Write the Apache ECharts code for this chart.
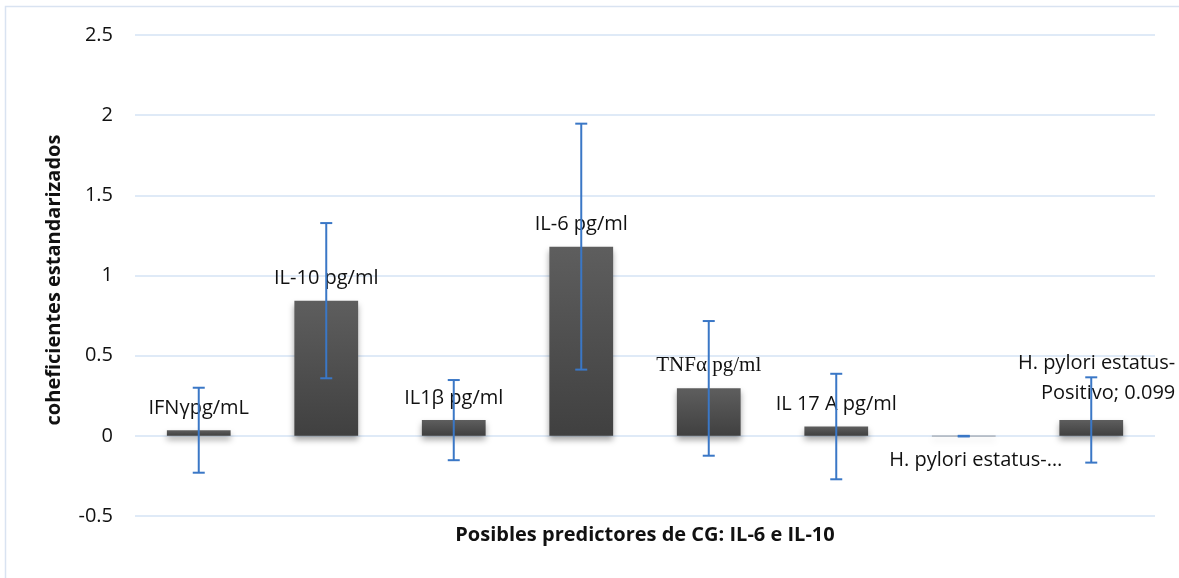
<!DOCTYPE html>
<html>
<head>
<meta charset="utf-8">
<script src="https://cdn.jsdelivr.net/npm/echarts@6/dist/echarts.min.js"></script>
<style>
  html, body { margin: 0; padding: 0; background: #fff; }
  #chart { width: 1179px; height: 578px; }
</style>
</head>
<body>
<div id="chart"></div>
<script>
// Predictor names (also used as the bar labels)
const categories = [
  'IFNγpg/mL',
  'IL-10 pg/ml',
  'IL1β pg/ml',
  'IL-6 pg/ml',
  'TNFα pg/ml',
  'IL 17 A pg/ml',
  'H. pylori estatus-Negativo',
  'H. pylori estatus-Positivo'
];
// Standardized coefficients
const coefficients = [0.035, 0.843, 0.098, 1.18, 0.296, 0.058, -0.002, 0.099];
// Symmetric error (± half-width of each interval)
const errors = [0.265, 0.484, 0.25, 0.767, 0.42, 0.329, 0.002, 0.266];
// Value-axis ticks
const yTicks = [-0.5, 0, 0.5, 1, 1.5, 2, 2.5];
const xTitle = 'Posibles predictores de CG: IL-6 e IL-10';
const yTitle = 'coheficientes estandarizados';

const labelFont = { fontFamily: 'Open Sans', fontSize: 20, color: '#111' };

const barData = coefficients.map((v, i) => {
  const item = { value: v };
  if (i === 4) {
    item.label = { fontFamily: 'Liberation Serif', fontSize: 21 };
  }
  if (i === 6) {
    item.label = {
      position: 'bottom', distance: 14, offset: [12, 0],
      formatter: 'H. pylori estatus-…'
    };
  }
  if (i === 7) {
    item.label = {
      align: 'right', offset: [84, 0], distance: 12, lineHeight: 30,
      formatter: 'H. pylori estatus-\nPositivo; ' + v.toFixed(3)
    };
  }
  return item;
});

const errData = coefficients.map((v, i) => [i, v - errors[i], v + errors[i]]);

const chart = echarts.init(document.getElementById('chart'), null, { renderer: 'canvas' });

chart.setOption({
  animation: false,
  backgroundColor: '#ffffff',
  graphic: [
    {
      type: 'rect',
      shape: { x: 5.5, y: 6.5, width: 1200, height: 600 },
      style: { fill: 'none', stroke: '#d9e3f1', lineWidth: 1.5 },
      silent: true,
      z: -10
    },
    {
      // vertical axis title
      type: 'group',
      x: 54,
      y: 280,
      children: [{
        type: 'text',
        rotation: Math.PI / 2,
        style: {
          text: yTitle,
          x: 0, y: 0,
          fontFamily: 'Open Sans', fontWeight: 'bold', fontSize: 20, fill: '#111',
          align: 'center', verticalAlign: 'middle'
        }
      }],
      silent: true
    }
  ],
  grid: { left: 135, right: 24, top: 35, bottom: 62, containLabel: false },
  xAxis: {
    type: 'category',
    data: categories,
    axisLine: { show: false },
    axisTick: { show: false },
    axisLabel: { show: false },
    name: xTitle,
    nameLocation: 'middle',
    nameGap: 9,
    nameTextStyle: { fontFamily: 'Open Sans', fontWeight: 'bold', fontSize: 20, color: '#111' }
  },
  yAxis: {
    type: 'value',
    min: yTicks[0],
    max: yTicks[yTicks.length - 1],
    interval: 0.5,
    axisLine: { show: false },
    axisTick: { show: false },
    axisLabel: {
      fontFamily: 'Open Sans', fontSize: 20, color: '#111', margin: 22,
      formatter: v => String(v)
    },
    splitLine: { lineStyle: { color: '#d5e3f4', width: 1.5 } }
  },
  series: [
    {
      type: 'bar',
      data: barData,
      barCategoryGap: '50%',
      itemStyle: {
        color: new echarts.graphic.LinearGradient(0, 0, 0, 1, [
          { offset: 0, color: '#5e5e5e' },
          { offset: 1, color: '#404040' }
        ]),
        shadowColor: 'rgba(0,0,0,0.35)',
        shadowBlur: 6,
        shadowOffsetY: 4
      },
      label: Object.assign({
        show: true,
        position: 'top',
        distance: 12,
        formatter: p => categories[p.dataIndex]
      }, labelFont),
      z: 2
    },
    {
      type: 'custom',
      data: errData,
      z: 5,
      renderItem: (params, api) => {
        const x = api.value(0);
        const lo = api.coord([x, api.value(1)]);
        const hi = api.coord([x, api.value(2)]);
        const cap = 6;
        const style = { stroke: '#3a77c6', lineWidth: 2 };
        return {
          type: 'group',
          children: [
            { type: 'line', shape: { x1: hi[0], y1: hi[1], x2: lo[0], y2: lo[1] }, style },
            { type: 'line', shape: { x1: hi[0] - cap, y1: hi[1], x2: hi[0] + cap, y2: hi[1] }, style },
            { type: 'line', shape: { x1: lo[0] - cap, y1: lo[1], x2: lo[0] + cap, y2: lo[1] }, style }
          ]
        };
      }
    }
  ]
});
</script>
</body>
</html>
